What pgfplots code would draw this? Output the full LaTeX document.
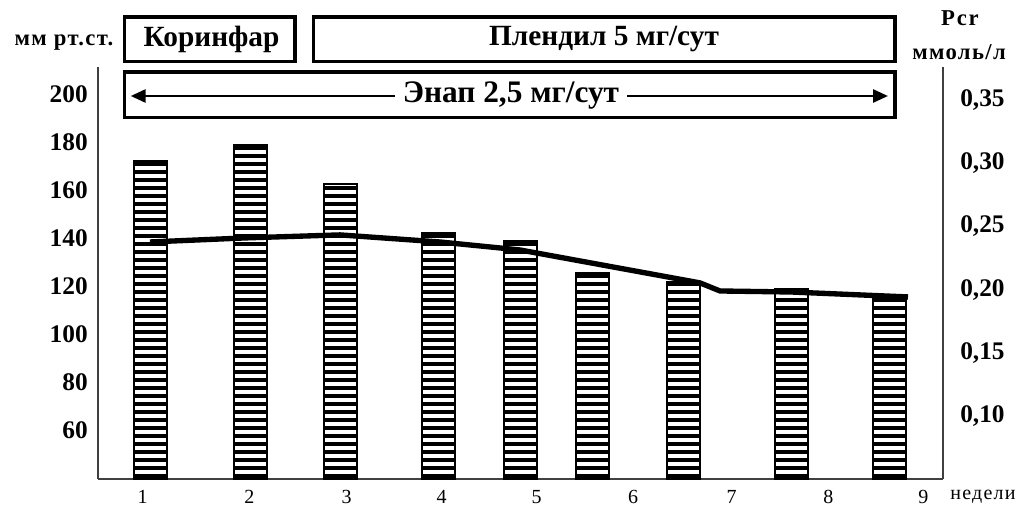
\documentclass[border=0pt]{standalone}
\usepackage{fontspec}
\setmainfont{Liberation Serif}
\newfontfamily\spacedA[LetterSpace=6]{Liberation Serif}
\newfontfamily\spacedB[LetterSpace=8]{Liberation Serif}
\usepackage{pgfplots}
\pgfplotsset{compat=1.18}
\usetikzlibrary{patterns.meta,arrows.meta}
\begin{document}
\begin{tikzpicture}
\pgfplotsset{
  common/.style={
    at={(73.5pt,21.75pt)}, anchor=south west,
    scale only axis, width=633.75pt, height=309pt,
    xmin=98, xmax=943,
    major tick length=0pt,
    axis line style={draw=black!75, line width=1.1pt},
  }
}
% left axis with bars
\begin{axis}[common,
  axis x line*=bottom, axis y line*=left,
  ymin=39.6, ymax=211.25,
  ytick={60,80,100,120,140,160,180,200},
  yticklabels={60,80,100,120,140,160,180,200},
  yticklabel style={font=\rmfamily\bfseries\fontsize{19}{19}\selectfont, anchor=east, inner sep=0pt, xshift=-7.5pt},
  xtick={142.7,249.3,346.7,441.7,536.7,633,731.7,828.3,923.3},
  xticklabels={1,2,3,4,5,6,7,8,9},
  xticklabel style={font=\rmfamily\fontsize{15}{15}\selectfont, anchor=center, yshift=-13.3pt},
]
\addplot[ybar, bar width=33, fill=white, draw=black, line width=1.5pt,
  postaction={pattern={Lines[angle=0,distance=6pt,line width=3.4pt]}}]
coordinates {(150,172.2) (250,178.9) (340,162.4) (438.5,142.2) (520.5,138.75) (592.5,125.5) (683.5,121.8) (791.5,118.6) (889.5,116.25)};
\end{axis}
% right axis with line
\begin{axis}[common,
  hide x axis, axis y line*=right,
  ymin=0.0506, ymax=0.376,
  ytick={0.10,0.15,0.20,0.25,0.30,0.35},
  yticklabels={{0,10},{0,15},{0,20},{0,25},{0,30},{0,35}},
  yticklabel style={font=\rmfamily\bfseries\fontsize{19}{19}\selectfont, anchor=west, inner sep=0pt, xshift=12.75pt},
]
\addplot[black, line width=4pt, line join=round]
coordinates {(150,0.2378) (245,0.241) (340,0.2434) (440,0.2378) (520,0.2315) (700,0.2055) (720,0.1991) (791,0.1983) (908,0.1944)};
\end{axis}
% boxes and labels (1 unit = 1 px of the reference)
\begin{scope}[x=0.75pt,y=0.75pt]
\draw[line width=2.6pt] (124.5,491.2) rectangle (295,446.5);
\draw[line width=2.6pt] (313.5,491.2) rectangle (895,446.5);
\draw[line width=2.6pt] (124.5,436.2) rectangle (895,390.5);
\node[font=\bfseries\fontsize{22}{22}\selectfont] at (211.5,469) {Коринфар};
\node[font=\bfseries\fontsize{22}{22}\selectfont] at (604,469) {Плендил 5 мг/сут};
\draw[line width=2pt, {Triangle[length=11.25pt,width=9.75pt]}-{Triangle[length=11.25pt,width=9.75pt]}] (130.7,412) -- (888,412);
\node[fill=white, inner xsep=6pt, font=\bfseries\fontsize{23.5}{23.5}\selectfont] at (511,412) {Энап 2,5 мг/сут};
\node[font=\spacedA\bfseries\fontsize{17}{17}\selectfont] at (64,465) {мм рт.ст.};
\node[font=\spacedB\bfseries\fontsize{17}{17}\selectfont] at (960,490) {Рсr};
\node[font=\spacedA\bfseries\fontsize{17}{17}\selectfont] at (959,456) {ммоль/л};
\node[font=\spacedA\fontsize{15}{15}\selectfont] at (983,11) {недели};
\pgfresetboundingbox
\path[use as bounding box] (0,0) rectangle (1017,508);
\end{scope}
\end{tikzpicture}
\end{document}
